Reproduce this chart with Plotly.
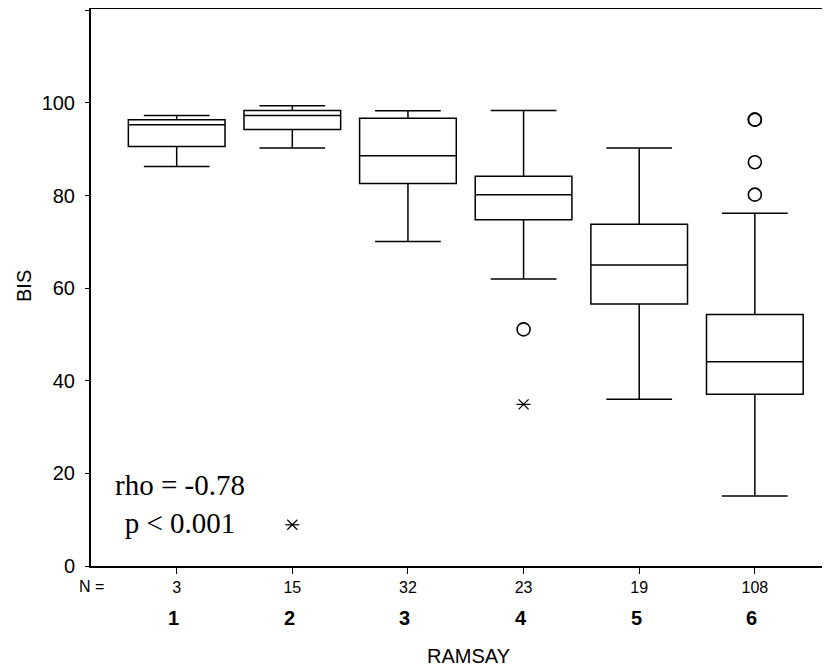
import plotly.graph_objects as go

ramsay = [1, 2, 3, 4, 5, 6]
n_counts = [3, 15, 32, 23, 19, 108]
lower_whisker = [86.3, 90.3, 70.1, 62.0, 36.0, 15.1]
q1 = [90.6, 94.3, 82.6, 74.8, 56.6, 37.1]
median = [95.3, 97.3, 88.6, 80.2, 65.0, 44.1]
q3 = [96.4, 98.4, 96.7, 84.2, 73.8, 54.3]
upper_whisker = [97.3, 99.4, 98.3, 98.4, 90.3, 76.2]

outlier_x = [4, 6, 6, 6, 6]
outlier_y = [51.1, 96.4, 96.4, 87.2, 80.2]
extreme_x = [2, 4]
extreme_y = [8.9, 34.9]

y_ticks = [0, 20, 40, 60, 80, 100, 120]
y_ticktext = ["0", "20", "40", "60", "80", "100", ""]

# page body has an 8px margin; work in window pixels and shift
OFF = 8
L, R, T, B = 91, 830, 9, 566          # plot area in window pixels
W, H = 830 - OFF, 667 - OFF           # figure size

fig = go.Figure()
for i, r in enumerate(ramsay):
    fig.add_trace(go.Box(
        x=[r], q1=[q1[i]], median=[median[i]], q3=[q3[i]],
        lowerfence=[lower_whisker[i]], upperfence=[upper_whisker[i]],
        width=0.836, whiskerwidth=0.68,
        fillcolor="white", line=dict(color="black", width=1.5),
        boxpoints=False, showlegend=False, hoverinfo="skip",
    ))

fig.add_trace(go.Scatter(
    x=outlier_x, y=outlier_y, mode="markers",
    marker=dict(symbol="circle-open", size=13, color="black", line=dict(width=1.6)),
    showlegend=False, hoverinfo="skip",
))
for sym in ["line-ew-open", "x-thin-open"]:
    fig.add_trace(go.Scatter(
        x=extreme_x, y=extreme_y, mode="markers",
        marker=dict(symbol=sym, size=10, color="black", line=dict(width=1.2, color="black")),
        showlegend=False, hoverinfo="skip",
    ))

def px(xp):
    return (xp - L) / (R - L)

def py(yp):
    return (B - yp) / (B - T)

annotations = [
    dict(text="rho = -0.78<br>p < 0.001", x=px(180), y=py(504), xref="paper", yref="paper",
         xanchor="center", yanchor="middle", showarrow=False, align="center",
         font=dict(family="Liberation Serif, Times New Roman, serif", size=29, color="black")),
    dict(text="N =", x=px(91), y=py(586), xref="paper", yref="paper", xanchor="center", yanchor="middle",
         showarrow=False, font=dict(family="Liberation Sans, Arial", size=16, color="black")),
    dict(text="RAMSAY", x=px(468), y=py(656), xref="paper", yref="paper", xanchor="center", yanchor="middle",
         showarrow=False, font=dict(family="Liberation Sans, Arial", size=20, color="black")),
    dict(text="BIS", x=px(24), y=py(286), xref="paper", yref="paper", xanchor="center", yanchor="middle",
         textangle=-90, showarrow=False, font=dict(family="Liberation Sans, Arial", size=20, color="black")),
]
for r in ramsay:
    annotations.append(dict(
        text="<b>%d</b>" % r, x=r, y=py(618), xref="x", yref="paper",
        xanchor="center", yanchor="middle", xshift=-3, showarrow=False,
        font=dict(family="Liberation Sans, Arial", size=20, color="black")))

fig.update_layout(
    width=W, height=H,
    margin=dict(l=L - OFF, r=(830 - R), t=T - OFF, b=(667 - B), autoexpand=False),
    plot_bgcolor="white", paper_bgcolor="white",
    font=dict(family="Liberation Sans, Arial", color="black"),
    annotations=annotations,
    xaxis=dict(
        range=[0.259, 6.65], tickvals=ramsay, ticktext=[str(n) for n in n_counts],
        tickfont=dict(size=16), ticks="outside", ticklen=6, tickwidth=1.3, tickcolor="black",
        showline=True, linecolor="black", linewidth=2, mirror=True,
        showgrid=False, zeroline=False, automargin=False,
    ),
    yaxis=dict(
        range=[0, 120.3], tickvals=y_ticks, ticktext=y_ticktext,
        tickfont=dict(size=20), ticks="outside", ticklen=4, tickwidth=1.3, tickcolor="black",
        ticklabelstandoff=6,
        showline=True, linecolor="black", linewidth=2,
        showgrid=False, zeroline=False, automargin=False,
    ),
)

fig.write_html("out.html")
